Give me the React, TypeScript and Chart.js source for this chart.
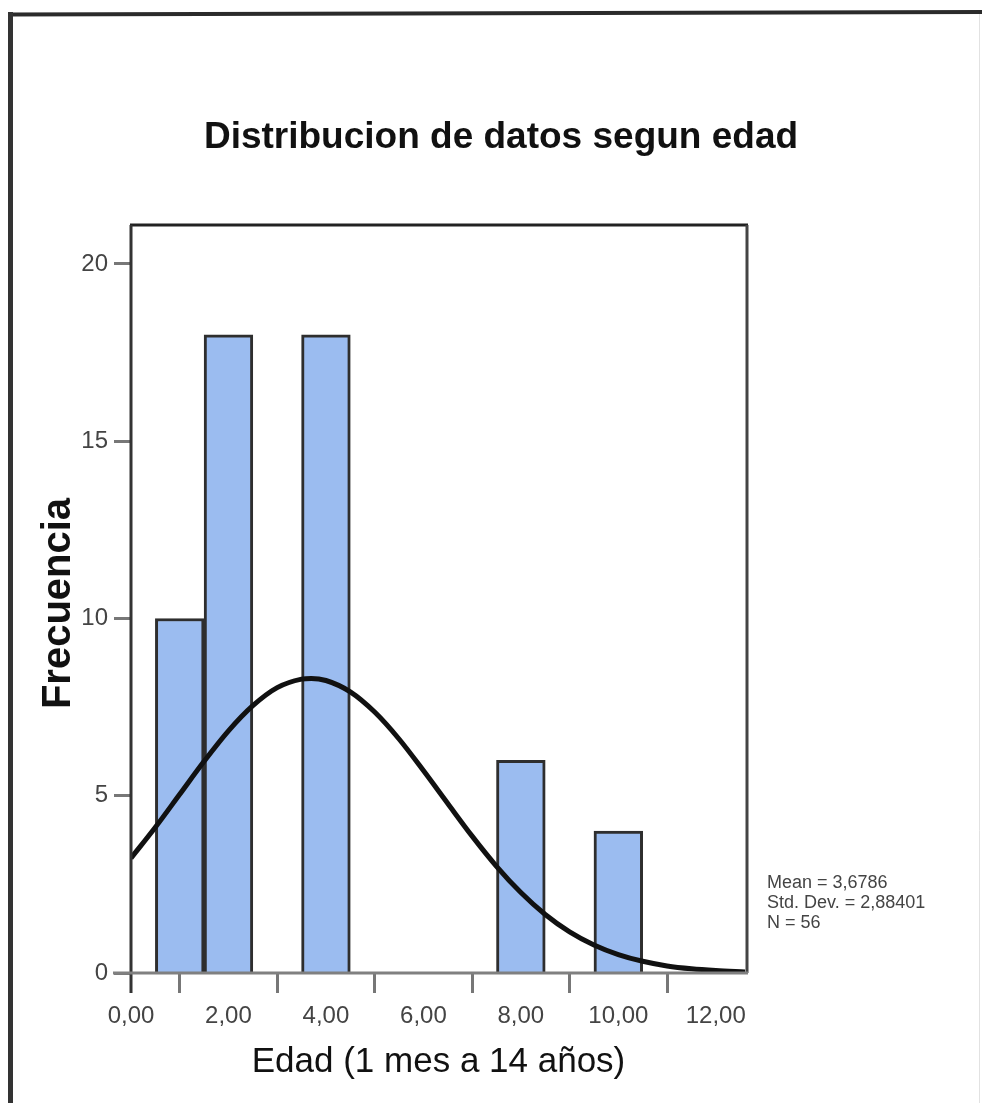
import React, { useEffect, useRef } from "react";
import { Chart, registerables } from "chart.js";

Chart.register(...registerables);

const TITLE = "Distribucion de datos segun edad";
const X_TITLE = "Edad (1 mes a 14 años)";
const Y_TITLE = "Frecuencia";
const STATS = ["Mean = 3,6786", "Std. Dev. = 2,88401", "N = 56"];

const binCenters = [1, 2, 4, 8, 10];
const counts = [10, 18, 18, 6, 4];

const curveX = [0, 0.5, 1, 1.5, 2, 2.5, 3, 3.5, 3.7, 4, 4.5, 5, 5.5, 6, 6.5, 7, 7.5, 8, 8.5, 9, 9.5, 10, 10.5, 11, 11.5, 12, 12.6];
const curveY = [3.24, 4.11, 5.04, 5.97, 6.83, 7.54, 8.05, 8.29, 8.31, 8.25, 7.93, 7.36, 6.6, 5.71, 4.78, 3.86, 3.01, 2.27, 1.65, 1.16, 0.79, 0.52, 0.33, 0.2, 0.12, 0.07, 0.03];

const X_MIN = 0;
const X_MAX = 12.62;
const Y_MIN = 0;
const Y_MAX = 21.07;

const FONT = "'Liberation Sans', Arial, sans-serif";

const decorPlugin = {
  id: "decor",
  afterDraw(chart: any) {
    const ctx = chart.ctx as CanvasRenderingContext2D;
    const a = chart.chartArea;
    ctx.save();
    // outer figure frame (top + left)
    ctx.strokeStyle = "#2b2b2b";
    ctx.lineWidth = 4;
    ctx.beginPath();
    ctx.moveTo(8, 14.5);
    ctx.lineTo(982, 12);
    ctx.stroke();
    ctx.lineWidth = 5;
    ctx.strokeStyle = "#333";
    ctx.beginPath();
    ctx.moveTo(10.5, 12);
    ctx.lineTo(10.5, 1103);
    ctx.stroke();
    ctx.lineWidth = 1;
    ctx.strokeStyle = "#e2e2e2";
    ctx.beginPath();
    ctx.moveTo(979.5, 14);
    ctx.lineTo(979.5, 1103);
    ctx.stroke();

    // plot frame: top, right, left
    ctx.strokeStyle = "#222";
    ctx.lineWidth = 3;
    ctx.beginPath();
    ctx.moveTo(a.left - 1, a.top - 1);
    ctx.lineTo(a.right + 2, a.top - 1);
    ctx.stroke();
    ctx.strokeStyle = "#444";
    ctx.beginPath();
    ctx.moveTo(a.right + 1, a.top - 1);
    ctx.lineTo(a.right + 1, a.bottom);
    ctx.stroke();
    ctx.strokeStyle = "#333";
    ctx.beginPath();
    ctx.moveTo(a.left, a.top - 1);
    ctx.lineTo(a.left, a.bottom + 20);
    ctx.stroke();
    ctx.strokeStyle = "#808080";
    ctx.beginPath();
    ctx.moveTo(a.left - 18, a.bottom);
    ctx.lineTo(a.right + 2, a.bottom);
    ctx.stroke();

    // title
    ctx.fillStyle = "#111";
    ctx.textAlign = "center";
    ctx.textBaseline = "alphabetic";
    ctx.font = `bold 37px ${FONT}`;
    ctx.fillText(TITLE, 501, 148);

    // x title
    ctx.font = `35px ${FONT}`;
    ctx.fillText(X_TITLE, (a.left + a.right) / 2, 1072);

    // y title
    ctx.save();
    ctx.translate(70, (a.top + a.bottom) / 2 + 4);
    ctx.rotate(-Math.PI / 2);
    ctx.font = `bold 40px ${FONT}`;
    ctx.textAlign = "center";
    ctx.textBaseline = "alphabetic";
    ctx.fillText(Y_TITLE, 0, 0);
    ctx.restore();

    // stats
    ctx.fillStyle = "#444";
    ctx.font = `18px ${FONT}`;
    ctx.textAlign = "left";
    ctx.textBaseline = "middle";
    const ys = [883, 903, 923];
    STATS.forEach((s, i) => ctx.fillText(s, 767, ys[i]));
    ctx.restore();
  },
};

export default function App() {
  const ref = useRef<HTMLCanvasElement | null>(null);

  useEffect(() => {
    if (!ref.current) return;
    const chart = new Chart(ref.current, {
      type: "bar",
      data: {
        datasets: [
          {
            type: "line",
            data: curveX.map((x, i) => ({ x, y: curveY[i] })),
            borderColor: "#111",
            borderWidth: 5,
            pointRadius: 0,
            cubicInterpolationMode: "monotone",
            fill: false,
            order: 0,
          } as any,
          {
            type: "bar",
            data: binCenters.map((x, i) => ({ x, y: counts[i] })),
            backgroundColor: "#9bbcf0",
            borderColor: "#2e2e2e",
            borderWidth: 3,
            borderSkipped: "bottom",
            barPercentage: 1,
            categoryPercentage: 1,
            order: 1,
          } as any,
        ],
      },
      options: {
        responsive: false,
        animation: false,
        devicePixelRatio: 1,
        layout: { padding: { top: 226, right: 236, left: 0, bottom: 0 } },
        plugins: {
          legend: { display: false },
          title: { display: false },
          tooltip: { enabled: false },
        },
        scales: {
          x: {
            type: "linear",
            min: X_MIN,
            max: X_MAX,
            offset: false,
            afterFit: (s: any) => {
              s.height = 130;
            },
            grid: {
              display: true,
              drawOnChartArea: false,
              drawTicks: true,
              tickLength: 20,
              tickWidth: 3,
              tickColor: "#777",
            },
            border: { display: false },
            ticks: {
              stepSize: 2,
              includeBounds: false,
              autoSkip: false,
              maxRotation: 0,
              padding: 9,
              color: "#444",
              font: { family: FONT, size: 24 },
              callback: (v: any) => Number(v).toFixed(2).replace(".", ","),
            },
          },
          y: {
            type: "linear",
            min: Y_MIN,
            max: Y_MAX,
            afterFit: (s: any) => {
              s.width = 131;
            },
            grid: {
              display: true,
              drawOnChartArea: false,
              drawTicks: true,
              tickLength: 17,
              tickWidth: 3,
              tickColor: "#777",
            },
            border: { display: false },
            ticks: {
              stepSize: 5,
              includeBounds: false,
              padding: 6,
              color: "#444",
              font: { family: FONT, size: 24 },
            },
          },
        },
      },
      plugins: [decorPlugin],
    } as any);
    return () => chart.destroy();
  }, []);

  return (
    <div style={{ position: "absolute", left: 0, top: 0, width: 982, height: 1103, background: "#fff" }}>
      <canvas ref={ref} width={982} height={1103} style={{ display: "block" }} />
    </div>
  );
}
